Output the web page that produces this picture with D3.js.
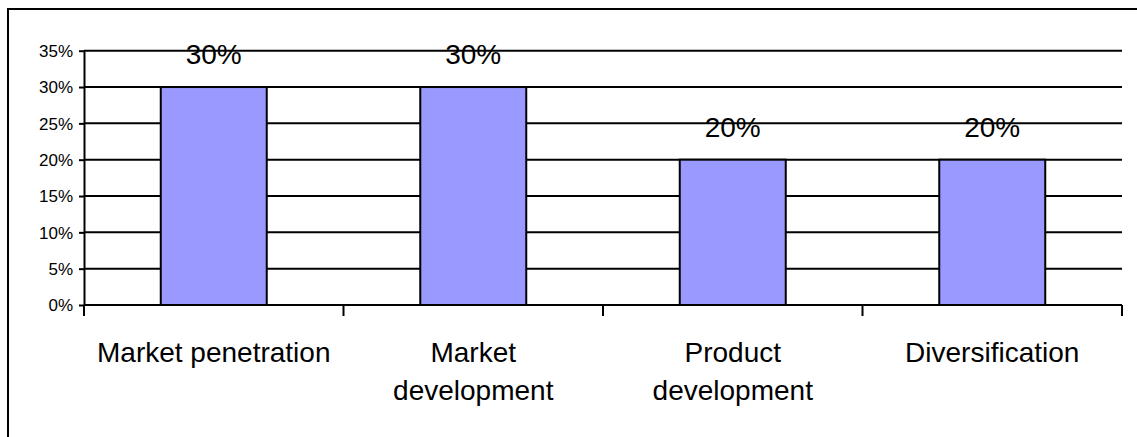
<!DOCTYPE html>
<html>
<head>
<meta charset="utf-8">
<script src="https://cdn.jsdelivr.net/npm/d3@7"></script>
<style>
  html, body { margin: 0; padding: 0; background: #fff; }
  svg { display: block; font-family: "Liberation Sans", Arial, sans-serif; }
</style>
</head>
<body>
<svg id="chart" width="1137" height="437"></svg>
<script>
// Ansoff growth strategies: share of effort per strategy
const categories = [["Market penetration"], ["Market", "development"], ["Product", "development"], ["Diversification"]];
const values = [0.30, 0.30, 0.20, 0.20];
const valueLabels = ["30%", "30%", "20%", "20%"];
const yTicks = [0, 0.05, 0.10, 0.15, 0.20, 0.25, 0.30, 0.35];

const svg = d3.select("#chart");
const W = 1137, H = 437;
const plotLeft = 84, plotRight = 1122, plotTop = 50.7, plotBottom = 305;

// outer frame (runs off the right and bottom edges)
svg.append("rect")
  .attr("x", 8).attr("y", 9)
  .attr("width", W + 20).attr("height", H + 20)
  .attr("fill", "none").attr("stroke", "#000").attr("stroke-width", 2);

const x = d3.scaleBand().domain(d3.range(categories.length)).range([plotLeft, plotRight]).paddingInner(0).paddingOuter(0);
const y = d3.scaleLinear().domain([0, 0.35]).range([plotBottom, plotTop]);

// horizontal gridlines
svg.append("g").selectAll("line").data(yTicks).join("line")
  .attr("x1", plotLeft).attr("x2", plotRight)
  .attr("y1", d => y(d)).attr("y2", d => y(d))
  .attr("stroke", "#000").attr("stroke-width", 2);

// y axis
const yAxis = svg.append("g").attr("transform", `translate(${plotLeft},0)`)
  .call(d3.axisLeft(y).tickValues(yTicks).tickSize(5).tickSizeOuter(0).tickFormat(d3.format(".0%")));
yAxis.select(".domain").attr("stroke", "#000").attr("stroke-width", 2);
yAxis.selectAll(".tick line").attr("stroke", "#000").attr("stroke-width", 2);
yAxis.selectAll(".tick text")
  .attr("x", -11).attr("dy", "0.35em")
  .attr("font-size", 17).attr("fill", "#000")
  .attr("font-family", "Liberation Sans, Arial, sans-serif");

// bars
const barW = 106;
svg.append("g").selectAll("rect").data(values).join("rect")
  .attr("x", (d, i) => x(i) + x.bandwidth() / 2 - barW / 2)
  .attr("y", d => y(d))
  .attr("width", barW)
  .attr("height", d => y(0) - y(d))
  .attr("fill", "#9999FF").attr("stroke", "#000").attr("stroke-width", 2);

// value labels above bars
svg.append("g").selectAll("text").data(values).join("text")
  .attr("x", (d, i) => x(i) + x.bandwidth() / 2)
  .attr("y", d => y(d) - 23)
  .attr("text-anchor", "middle")
  .attr("font-size", 28).attr("fill", "#000")
  .text((d, i) => valueLabels[i]);

// x axis line and category ticks
const xg = svg.append("g");
xg.append("line").attr("x1", plotLeft).attr("x2", plotRight).attr("y1", plotBottom).attr("y2", plotBottom)
  .attr("stroke", "#000").attr("stroke-width", 2);
const bounds = d3.range(categories.length + 1).map(i => i < categories.length ? x(i) : plotRight);
xg.selectAll("line.tk").data(bounds).join("line").attr("class", "tk")
  .attr("x1", d => d).attr("x2", d => d)
  .attr("y1", plotBottom).attr("y2", plotBottom + 11)
  .attr("stroke", "#000").attr("stroke-width", 2);

// category labels
const lab = svg.append("g").selectAll("text").data(categories).join("text")
  .attr("x", (d, i) => x(i) + x.bandwidth() / 2)
  .attr("y", 362)
  .attr("text-anchor", "middle")
  .attr("font-size", 28).attr("fill", "#000");
lab.selectAll("tspan").data(d => d).join("tspan")
  .attr("x", function () { return d3.select(this.parentNode).attr("x"); })
  .attr("dy", (d, j) => j === 0 ? 0 : 38)
  .text(d => d);
</script>
</body>
</html>
